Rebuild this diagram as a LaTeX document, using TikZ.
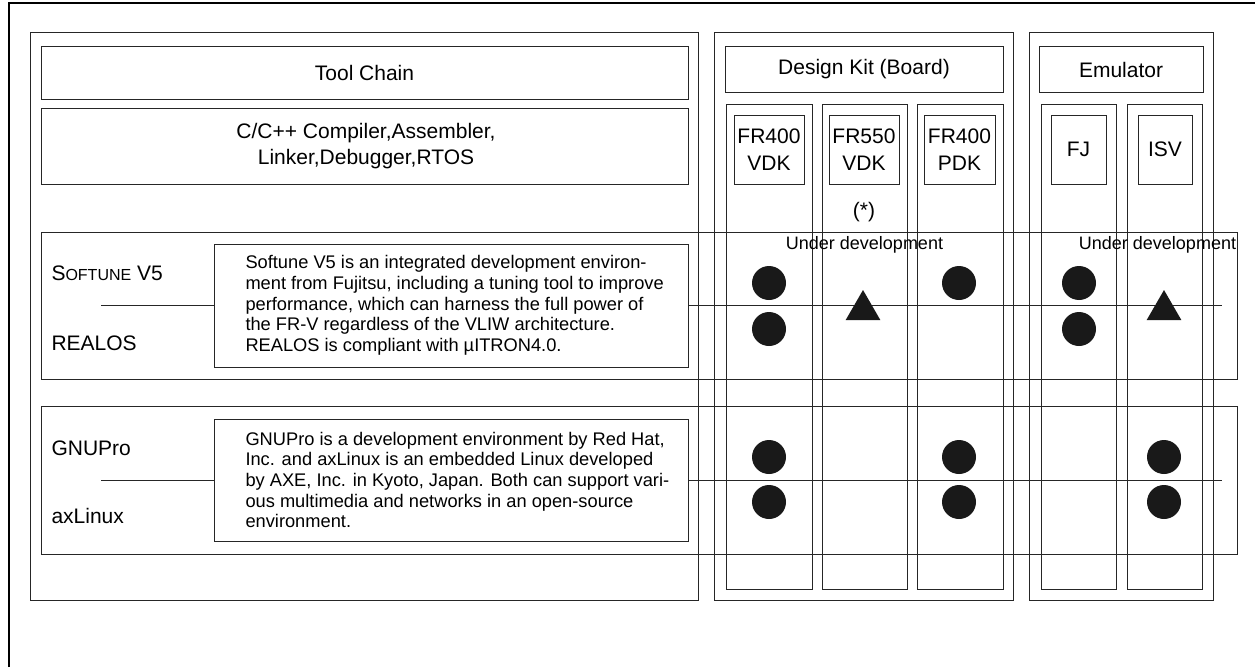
\documentclass[tikz,border=0pt]{standalone}
\usepackage{fontspec}
\setmainfont{Liberation Sans}
\usetikzlibrary{shapes.geometric}

\begin{document}
\begin{tikzpicture}[x=0.75pt, y=-0.75pt, line width=0.75pt,
	every node/.style={inner sep=0pt},
	box/.style={draw=black!85, rectangle},
	wh/.style 2 args={minimum width=#1*0.75pt, minimum height=#2*0.75pt},
	lbl/.style={font=\fontsize{15.75}{20}\selectfont},
	desc/.style={anchor=west, align=left, font=\fontsize{13.7}{15.5}\selectfont},
	note/.style={font=\fontsize{13.5}{16}\selectfont},
	dot/.style={circle, fill=black!90, minimum size=25.5pt},
	tri/.style={regular polygon, regular polygon sides=3, fill=black!90, minimum size=30pt}]
	\useasboundingbox (0,0) rectangle (1255,667);
	\draw[line width=2pt] (9,667) -- (9,3) -- (1255,3);
	% outer columns
	\node[box, wh={668}{567}] (tc) at (364,316.5) {};
	\node[box, wh={299}{567}] (dk) at (863.5,316.5) {};
	\node[box, wh={184}{567}] (em) at (1121,316.5) {};
	% headers
	\node[box, wh={647}{52}, lbl] (tchead) at (364.5,73) {Tool Chain};
	\node[box, wh={647}{76}] (comp) at (364.5,146) {};
	\node[lbl, align=center] (comptxt) at (366,146) {C/C++ Compiler,Assembler,\\Linker,Debugger,RTOS};
	\node[box, wh={278}{45}, lbl] (dkhead) at (864,69.5) {Design Kit (Board)};
	\node[box, wh={164}{45}, lbl] (emhead) at (1121,69.5) {Emulator};
	% board and emulator columns
	\node[box, wh={86}{485}] (c1) at (769,346.5) {};
	\node[box, wh={85}{485}] (c2) at (864.5,346.5) {};
	\node[box, wh={86}{485}] (c3) at (960,346.5) {};
	\node[box, wh={75}{485}] (c4) at (1078.5,346.5) {};
	\node[box, wh={75}{485}] (c5) at (1164.5,346.5) {};
	\node[box, wh={70}{69}, lbl, align=center] (vdk4) at (769,149.5) {FR400\\VDK};
	\node[box, wh={70}{69}, lbl, align=center] (vdk5) at (864,149.5) {FR550\\VDK};
	\node[box, wh={71}{69}, lbl, align=center] (pdk4) at (959.5,149.5) {FR400\\PDK};
	\node[box, wh={55}{69}, lbl] (fj) at (1078.5,149.5) {FJ};
	\node[box, wh={54}{69}, lbl] (isv) at (1165,149.5) {ISV};
	\node[lbl] (star) at (864,212) {(*)};
	% rows
	\node[box, wh={1196}{147}] (softrow) at (639,305.5) {};
	\node[box, wh={1196}{148}] (gnurow) at (639,480) {};
	\node[box, wh={474}{123}] (softbox) at (451,305.5) {};
	\node[box, wh={474}{122}] (gnubox) at (451,480) {};
	\node[desc] (softtxt) at (245,305.5) {Softune V5 is an integrated development environ-\\ment from Fujitsu, including a tuning tool to improve\\performance, which can harness the full power of\\the FR-V regardless of the VLIW architecture.\\REALOS is compliant with µITRON4.0.};
	\node[desc] (gnutxt) at (245,480) {GNUPro is a development environment by Red Hat,\\Inc. and axLinux is an embedded Linux developed\\by AXE, Inc. in Kyoto, Japan. Both can support vari-\\ous multimedia and networks in an open-source\\environment.};
	\node[lbl, anchor=west] (softune) at (51,273) {S{\fontsize{12}{14}\selectfont OFTUNE} V5};
	\node[lbl, anchor=west] (realos) at (51,343) {REALOS};
	\node[lbl, anchor=west] (gnupro) at (51,448) {GNUPro};
	\node[lbl, anchor=west] (axlinux) at (51,516) {axLinux};
	\coordinate (sl) at (101,305.5); \coordinate (sr) at (1222,305.5);
	\coordinate (gl) at (101,480); \coordinate (gr) at (1222,480);
	\draw[black!85] (sl) -- (softbox.west); \draw[black!85] (softbox.east) -- (sr);
	\draw[black!85] (gl) -- (gnubox.west); \draw[black!85] (gnubox.east) -- (gr);
	% marks
	\node[note] (ud1) at (864.5,245) {Under development};
	\node[note] (ud2) at (1157.5,245) {Under development};
	\node[dot] (s1a) at (769,283) {}; \node[dot] (s1b) at (769,329) {};
	\node[tri] (s2) at (863,310) {};
	\node[dot] (s3) at (959,283) {};
	\node[dot] (s4a) at (1079,283) {}; \node[dot] (s4b) at (1079,329) {};
	\node[tri] (s5) at (1164,310) {};
	\node[dot] (g1a) at (769,457) {}; \node[dot] (g1b) at (769,502) {};
	\node[dot] (g3a) at (959,457) {}; \node[dot] (g3b) at (959,502) {};
	\node[dot] (g5a) at (1164,457) {}; \node[dot] (g5b) at (1164,502) {};
\end{tikzpicture}
\end{document}
